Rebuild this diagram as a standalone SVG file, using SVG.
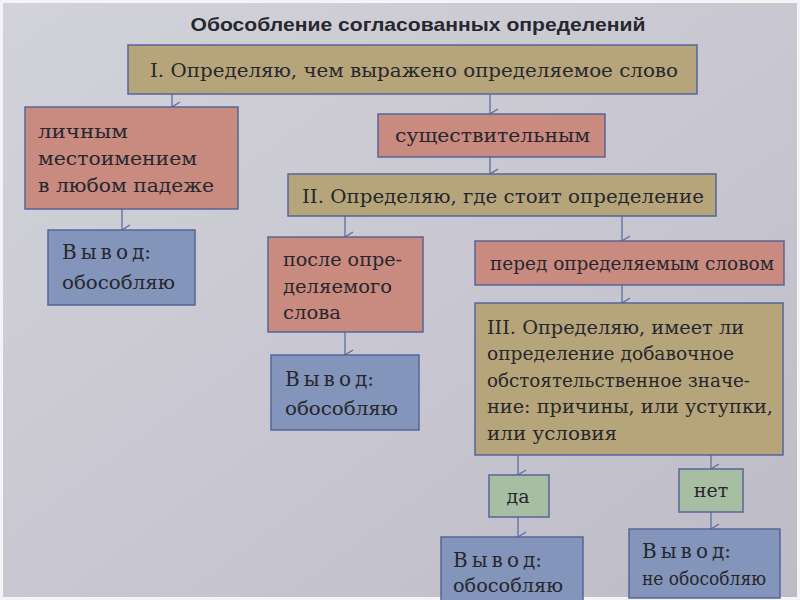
<svg xmlns="http://www.w3.org/2000/svg" width="800" height="600" viewBox="0 0 800 600">
<defs>
<marker id="ah" viewBox="0 0 12 10" refX="6" refY="9" markerWidth="12" markerHeight="10" markerUnits="userSpaceOnUse" orient="auto-start-reverse">
<path d="M1,1 L6,9 L11,1" fill="none" stroke="#5a6fa0" stroke-width="1.3"/>
</marker>
<linearGradient id="bg" x1="0" y1="0" x2="1" y2="1">
<stop offset="0" stop-color="#d2d2da"/>
<stop offset="0.6" stop-color="#c7c6d0"/>
<stop offset="1" stop-color="#bdbcc6"/>
</linearGradient>
</defs>
<style>
.box{stroke:#55659a;stroke-width:1.5}
.tan{fill:#b6a57b}
.pink{fill:#c98a80}
.blue{fill:#8395ba}
.green{fill:#a8bea2}
.t{font-family:"DejaVu Serif","Liberation Serif",serif;font-size:19px;fill:#28272d}
.title{font-family:"Liberation Sans","DejaVu Sans",sans-serif;font-weight:bold;font-size:19px;fill:#28272d}
.v{font-size:20px}
.sp{letter-spacing:4px}
.c line{stroke:#5a6fa0;stroke-width:1.3;marker-end:url(#ah)}
</style>
<rect x="0" y="0" width="800" height="600" fill="#f4f4f6"/>
<rect x="3" y="3" width="794" height="594" fill="url(#bg)"/>
<text class="title" x="418" y="31" text-anchor="middle" textLength="455" lengthAdjust="spacingAndGlyphs">Обособление согласованных определений</text>

<g class="c">
<line x1="172" y1="93" x2="172" y2="107"/>
<line x1="490" y1="95" x2="490" y2="114"/>
<line x1="122" y1="209" x2="122" y2="230"/>
<line x1="490" y1="157" x2="490" y2="174"/>
<line x1="345" y1="215" x2="345" y2="237"/>
<line x1="622" y1="216" x2="622" y2="241"/>
<line x1="345" y1="332" x2="345" y2="355"/>
<line x1="622" y1="285" x2="622" y2="303"/>
<line x1="518" y1="455" x2="518" y2="475"/>
<line x1="711" y1="452" x2="711" y2="469"/>
<line x1="518" y1="517" x2="518" y2="537"/>
<line x1="711" y1="512" x2="711" y2="529"/>
</g>

<g id="q1">
<rect class="box tan" x="128" y="45" width="569" height="49"/>
<text class="t" x="150" y="77" textLength="528" lengthAdjust="spacingAndGlyphs">I. Определяю, чем выражено определяемое слово</text>
</g>
<g id="pronoun">
<rect class="box pink" x="25" y="107" width="213" height="102"/>
<text class="t" x="38" y="138" textLength="90" lengthAdjust="spacingAndGlyphs">личным</text>
<text class="t" x="38" y="165" textLength="159" lengthAdjust="spacingAndGlyphs">местоимением</text>
<text class="t" x="38" y="192" textLength="176" lengthAdjust="spacingAndGlyphs">в любом падеже</text>
</g>
<g id="out1">
<rect class="box blue" x="48" y="230" width="147" height="75"/>
<text class="t v" x="62" y="259"><tspan class="sp">Выво</tspan>д:</text>
<text class="t" x="62" y="289" textLength="113" lengthAdjust="spacingAndGlyphs">обособляю</text>
</g>
<g id="noun">
<rect class="box pink" x="378" y="114" width="227" height="43"/>
<text class="t" x="395" y="142" textLength="195" lengthAdjust="spacingAndGlyphs">существительным</text>
</g>
<g id="q2">
<rect class="box tan" x="288" y="174" width="428" height="42"/>
<text class="t" x="302" y="203" textLength="402" lengthAdjust="spacingAndGlyphs">II. Определяю, где стоит определение</text>
</g>
<g id="after">
<rect class="box pink" x="268" y="237" width="155" height="95"/>
<text class="t" x="283" y="266" textLength="119" lengthAdjust="spacingAndGlyphs">после опре-</text>
<text class="t" x="283" y="293" textLength="109" lengthAdjust="spacingAndGlyphs">деляемого</text>
<text class="t" x="283" y="319" textLength="58" lengthAdjust="spacingAndGlyphs">слова</text>
</g>
<g id="out2">
<rect class="box blue" x="271" y="355" width="148" height="75"/>
<text class="t v" x="285" y="386"><tspan class="sp">Выво</tspan>д:</text>
<text class="t" x="285" y="415" textLength="113" lengthAdjust="spacingAndGlyphs">обособляю</text>
</g>
<g id="before">
<rect class="box pink" x="475" y="241" width="309" height="44"/>
<text class="t" x="490" y="270" textLength="284" lengthAdjust="spacingAndGlyphs">перед определяемым словом</text>
</g>
<g id="q3">
<rect class="box tan" x="475" y="303" width="308" height="152"/>
<text class="t" x="487" y="334" textLength="257" lengthAdjust="spacingAndGlyphs">III. Определяю, имеет ли</text>
<text class="t" x="487" y="360" textLength="247" lengthAdjust="spacingAndGlyphs">определение добавочное</text>
<text class="t" x="487" y="387" textLength="263" lengthAdjust="spacingAndGlyphs">обстоятельственное значе-</text>
<text class="t" x="487" y="413" textLength="286" lengthAdjust="spacingAndGlyphs">ние: причины, или уступки,</text>
<text class="t" x="487" y="440" textLength="130" lengthAdjust="spacingAndGlyphs">или условия</text>
</g>
<g id="yes">
<rect class="box green" x="489" y="475" width="60" height="42"/>
<text class="t" x="518" y="503" text-anchor="middle">да</text>
</g>
<g id="no">
<rect class="box green" x="679" y="469" width="64" height="43"/>
<text class="t" x="711" y="497" text-anchor="middle">нет</text>
</g>
<g id="out3">
<rect class="box blue" x="441" y="537" width="142" height="70"/>
<text class="t v" x="453" y="567"><tspan class="sp">Выво</tspan>д:</text>
<text class="t" x="453" y="592" textLength="110" lengthAdjust="spacingAndGlyphs">обособляю</text>
</g>
<g id="out4">
<rect class="box blue" x="629" y="529" width="151" height="69"/>
<text class="t v" x="642" y="558"><tspan class="sp">Выво</tspan>д:</text>
<text class="t" x="642" y="585" textLength="124" lengthAdjust="spacingAndGlyphs">не обособляю</text>
</g>
</svg>
